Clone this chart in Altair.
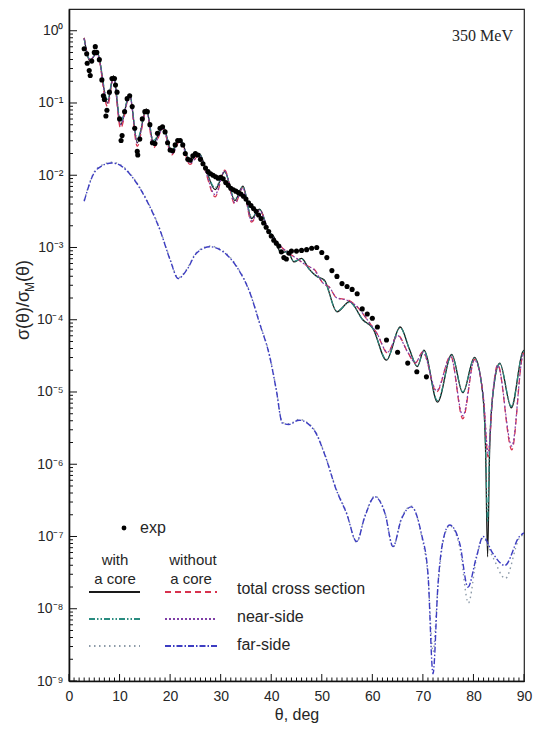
import altair as alt
import pandas as pd

# ---------------- data (theta in degrees, values given as log10 of sigma/sigma_M) ----------------
# total cross section, with a core (black solid)
tot_core_deg = [3.0, 4.1, 5.6, 7.6, 8.8, 10.2, 12.0, 13.5, 15.3, 16.7, 18.6, 20.3, 22.0, 23.9, 25.8, 27.0,
                28.9, 30.8, 32.8, 34.4, 36.1, 37.7, 39.5, 40.5, 42.0, 43.2, 44.5, 46.0, 47.5, 49.0, 50.5,
                53.0, 55.5, 58.1, 60.1, 62.8, 65.5, 67.4, 68.9, 70.2, 72.9, 75.7, 77.9, 80.2, 81.8, 82.4,
                82.8, 83.2, 83.9, 85.2, 87.5, 89.7, 90.0]
tot_core_lg = [-0.10, -0.42, -0.30, -1.00, -0.62, -1.30, -0.88, -1.55, -1.08, -1.55, -1.32, -1.67, -1.50,
               -1.80, -1.70, -1.90, -2.20, -1.95, -2.35, -2.15, -2.60, -2.47, -2.78, -2.85, -3.08, -3.05,
               -3.20, -3.15, -3.30, -3.40, -3.45, -3.89, -3.75, -4.00, -4.12, -4.56, -4.10, -4.42, -4.65,
               -4.42, -5.14, -4.48, -5.01, -4.52, -5.00, -5.80, -7.28, -5.80, -5.00, -4.60, -5.22, -4.45,
               -4.42]

# total cross section, without a core (red dashed)
tot_nocore_deg = [3.0, 4.1, 5.6, 7.6, 8.8, 10.2, 12.0, 13.5, 15.3, 16.7, 18.6, 20.3, 22.0, 23.9, 25.8, 27.0,
                  28.9, 30.8, 32.8, 34.4, 36.1, 37.7, 39.5, 41.0, 43.5, 45.0, 47.0, 48.5, 50.2, 51.5, 53.0,
                  55.0, 57.0, 59.0, 61.0, 63.0, 65.0, 67.0, 68.5, 70.0, 72.7, 75.5, 77.9, 80.2, 82.0, 82.9,
                  83.8, 84.8, 87.6, 89.7, 90.0]
tot_nocore_lg = [-0.10, -0.40, -0.32, -1.05, -0.65, -1.35, -0.90, -1.60, -1.10, -1.62, -1.35, -1.72, -1.52,
                 -1.85, -1.72, -1.95, -2.30, -1.93, -2.40, -2.17, -2.65, -2.48, -2.78, -2.92, -3.08, -3.15,
                 -3.25, -3.30, -3.49, -3.55, -3.70, -3.72, -3.82, -4.00, -4.20, -4.46, -4.21, -4.45, -4.60,
                 -4.44, -5.00, -4.50, -5.37, -4.55, -5.10, -5.90, -5.05, -4.62, -5.80, -4.50, -4.45]

# near-side, with a core (teal dash-dot-dot)
near_core_deg = [3.0, 4.1, 5.6, 7.6, 8.8, 10.2, 12.0, 13.5, 15.3, 16.7, 18.6, 20.3, 22.0, 23.9, 25.8, 27.0,
                 28.9, 30.8, 32.8, 34.4, 36.1, 37.7, 39.5, 40.5, 42.0, 43.2, 44.5, 46.0, 47.5, 49.0, 50.5,
                 53.0, 55.5, 58.1, 60.1, 62.8, 65.5, 67.4, 68.9, 70.2, 72.9, 75.7, 77.9, 80.2, 81.8, 82.4,
                 82.8, 83.2, 83.9, 85.2, 87.5, 89.7, 90.0]
near_core_lg = [-0.11, -0.40, -0.31, -0.95, -0.63, -1.25, -0.89, -1.50, -1.09, -1.52, -1.33, -1.65, -1.51,
                -1.78, -1.71, -1.91, -2.17, -1.96, -2.33, -2.16, -2.58, -2.48, -2.77, -2.86, -3.07, -3.06,
                -3.19, -3.16, -3.30, -3.40, -3.46, -3.88, -3.76, -4.00, -4.12, -4.55, -4.11, -4.42, -4.64,
                -4.43, -5.12, -4.49, -5.00, -4.53, -5.00, -5.75, -6.80, -5.75, -5.00, -4.61, -5.20, -4.46,
                -4.43]

# near-side, without a core (purple dotted)
near_nocore_deg = [3.0, 4.1, 5.6, 7.6, 8.8, 10.2, 12.0, 13.5, 15.3, 16.7, 18.6, 20.3, 22.0, 23.9, 25.8, 27.0,
                   28.9, 30.8, 32.8, 34.4, 36.1, 37.7, 39.5, 41.0, 43.5, 45.0, 47.0, 48.5, 50.2, 51.5, 53.0,
                   55.0, 57.0, 59.0, 61.0, 63.0, 65.0, 67.0, 68.5, 70.0, 72.7, 75.5, 77.9, 80.2, 82.0, 82.9,
                   83.8, 84.8, 87.6, 89.7, 90.0]
near_nocore_lg = [-0.11, -0.39, -0.33, -1.00, -0.66, -1.30, -0.91, -1.55, -1.11, -1.58, -1.36, -1.70, -1.53,
                  -1.83, -1.73, -1.94, -2.27, -1.94, -2.38, -2.18, -2.63, -2.49, -2.78, -2.92, -3.08, -3.15,
                  -3.25, -3.31, -3.49, -3.55, -3.70, -3.73, -3.82, -4.00, -4.20, -4.45, -4.22, -4.45, -4.59,
                  -4.45, -4.98, -4.51, -5.33, -4.56, -5.08, -5.85, -5.04, -4.63, -5.75, -4.51, -4.46]

# far-side, without a core (blue dash-dot)
far_nocore_deg = [3.0, 4.8, 6.5, 8.5, 10.3, 12.1, 15.3, 18.0, 20.0, 21.6, 23.3, 25.2, 27.9, 30.5, 33.1, 35.8,
                  37.7, 39.7, 41.0, 42.2, 43.5, 45.5, 48.5, 50.5, 52.9, 54.9, 56.9, 58.5, 60.5, 62.5, 64.1,
                  65.7, 67.7, 69.7, 71.0, 72.0, 73.0, 74.0, 75.3, 77.3, 78.9, 80.6, 81.9, 83.8, 86.2, 89.1,
                  90.0]
far_nocore_lg = [-2.36, -1.99, -1.87, -1.83, -1.87, -1.99, -2.34, -2.76, -3.17, -3.43, -3.31, -3.08, -2.99,
                 -3.06, -3.26, -3.63, -4.05, -4.51, -4.97, -5.43, -5.45, -5.39, -5.53, -5.85, -6.36, -6.68,
                 -7.07, -6.73, -6.45, -6.68, -7.14, -6.77, -6.59, -6.96, -7.51, -8.90, -7.65, -7.05, -6.84,
                 -7.10, -7.70, -7.28, -7.00, -7.23, -7.40, -7.00, -6.95]

# far-side, with a core (grey dotted)
far_core_deg = [3.0, 4.8, 6.5, 8.5, 10.3, 12.1, 15.3, 18.0, 20.0, 21.6, 23.3, 25.2, 27.9, 30.5, 33.1, 35.8,
                37.7, 39.7, 41.0, 42.2, 43.5, 45.5, 48.5, 50.5, 52.9, 54.9, 56.9, 58.5, 60.5, 62.5, 64.1,
                65.7, 67.7, 69.7, 71.0, 72.0, 73.0, 74.0, 75.3, 77.3, 79.0, 80.6, 81.9, 83.8, 86.3, 89.1,
                90.0]
far_core_lg = [-2.35, -1.98, -1.86, -1.82, -1.86, -1.98, -2.33, -2.75, -3.16, -3.42, -3.30, -3.07, -2.98,
               -3.05, -3.25, -3.62, -4.04, -4.50, -4.96, -5.42, -5.44, -5.38, -5.52, -5.84, -6.35, -6.67,
               -7.08, -6.72, -6.44, -6.67, -7.15, -6.76, -6.58, -6.98, -7.55, -8.60, -7.68, -7.07, -6.85,
               -7.15, -7.92, -7.30, -7.02, -7.28, -7.58, -7.02, -6.97]

# experimental points
exp_deg = [3.0, 3.5, 4.0, 4.5, 5.0, 5.5, 6.0, 6.5, 7.0, 7.5, 8.0, 8.5, 9.0, 9.5, 10.0, 10.5, 11.0, 11.5,
           12.0, 12.5, 13.0, 13.5, 14.0, 14.5, 15.0, 15.5, 16.0, 16.5, 17.0, 17.5, 18.0, 18.5, 19.0, 19.5,
           20.0, 20.5, 21.0, 21.5, 22.0, 22.5, 23.0, 23.5, 24.0, 24.5, 25.0, 25.5, 26.0, 26.5, 27.0, 27.5,
           28.0, 28.5, 29.0, 29.5, 30.0, 30.5, 31.0, 31.5, 32.0, 32.5, 33.0, 33.5, 34.0, 34.5, 35.0, 35.5,
           36.0, 36.5, 37.0, 37.5, 38.0, 38.5, 39.0, 39.5, 40.0, 40.5, 41.0, 41.5, 42.0, 42.5, 43.0, 43.5,
           44.0, 45.0, 46.0, 47.0, 48.0, 49.0, 50.0, 51.0, 52.0, 53.0, 54.0, 55.0, 56.0, 57.0, 58.0, 59.0,
           60.0, 61.0, 62.8, 65.0, 67.0, 68.8, 70.7,
           3.6, 4.2, 6.8, 7.3, 10.3, 13.6, 9.2, 5.2]
exp_lg = [-0.25, -0.32, -0.55, -0.42, -0.30, -0.30, -0.40, -0.68, -0.95, -1.10, -0.85, -0.66, -0.66, -0.85,
          -1.22, -1.45, -1.12, -0.94, -0.90, -1.05, -1.35, -1.67, -1.50, -1.22, -1.12, -1.12, -1.30, -1.55,
          -1.56, -1.42, -1.35, -1.33, -1.40, -1.55, -1.65, -1.66, -1.58, -1.52, -1.52, -1.58, -1.70, -1.78,
          -1.79, -1.73, -1.70, -1.72, -1.78, -1.84, -1.90, -1.95, -1.98, -2.00, -2.02, -2.04, -2.03, -2.05,
          -2.10, -2.14, -2.18, -2.20, -2.22, -2.24, -2.26, -2.29, -2.33, -2.38, -2.42, -2.46, -2.50, -2.55,
          -2.60, -2.66, -2.72, -2.78, -2.84, -2.90, -2.94, -2.98, -3.06, -3.14, -3.16, -3.08, -3.05, -3.05,
          -3.04, -3.03, -3.01, -3.00, -3.07, -3.14, -3.32, -3.40, -3.50, -3.54, -3.58, -3.64, -3.85, -3.92,
          -3.98, -4.10, -4.28, -4.45, -4.60, -4.72, -4.79,
          -0.45, -0.62, -0.90, -1.18, -1.52, -1.72, -0.75, -0.22]

# tick positions / labels
x_major = [0, 10, 20, 30, 40, 50, 60, 70, 80, 90]
x_minor = [v for v in range(0, 91) if v % 10 != 0]
y_major = [1e-9, 1e-8, 1e-7, 1e-6, 1e-5, 1e-4, 1e-3, 1e-2, 1e-1, 1e0]
y_minor = [m * 10.0 ** k for k in range(-9, 0) for m in range(2, 10)]
y_labels = ["10⁻⁹", "10⁻⁸", "10⁻⁷", "10⁻⁶", "10⁻⁵", "10⁻⁴", "10⁻³", "10⁻²", "10⁻¹", "10⁰"]

assert len(exp_deg) == len(exp_lg)


def frame(deg, lg):
    assert len(deg) == len(lg)
    return pd.DataFrame({"theta": deg, "ratio": [10.0 ** v for v in lg]})


W, H = 455, 672
FONT = "Liberation Sans"
TXT = "#262626"

xs = alt.Scale(domain=[0, 90], nice=False, zero=False)
ys = alt.Scale(type="log", domain=[1e-9, 2], nice=False)

label_expr = "[" + ",".join("'%s'" % s for s in y_labels) + "][round(log(datum.value)/LN10)+9]"

xaxis = alt.Axis(values=x_major, ticks=False, grid=False, labelFontSize=14, labelFont=FONT,
                 labelColor=TXT, labelPadding=8, labelFlush=False, domainColor="#111", domainWidth=1.6,
                 title="θ, deg", titleFont=FONT, titleFontSize=16, titleFontWeight="normal",
                 titleColor=TXT, titlePadding=3)
yaxis = alt.Axis(values=y_major, ticks=False, grid=False, labelFontSize=14, labelFont=FONT,
                 labelColor=TXT, labelPadding=6, labelFlush=False, labelExpr=label_expr,
                 domainColor="#111", domainWidth=1.6, title=None)

X = lambda f: alt.X(f, scale=xs, axis=xaxis)
Y = lambda f: alt.Y(f, scale=ys, axis=yaxis)


def curve(deg, lg, color, dash=None, width=1.3):
    kw = dict(color=color, strokeWidth=width, interpolate="monotone", clip=True)
    if dash:
        kw["strokeDash"] = dash
    return alt.Chart(frame(deg, lg)).mark_line(**kw).encode(x=X("theta:Q"), y=Y("ratio:Q"))


C_BLACK = "#1a1a1a"
C_RED = "#d8324e"
C_TEAL = "#2a8c80"
C_PURPLE = "#7e3ea6"
C_GREY = "#8c9aa8"
C_BLUE = "#3d3dc2"

D_RED = [6, 4]
D_TEAL = [6, 2, 1.5, 2, 1.5, 2]
D_PURPLE = [2, 2]
D_GREY = [1.5, 3.5]
D_BLUE = [6, 2, 1.5, 2]

layers = [
    curve(tot_core_deg, tot_core_lg, C_BLACK, None, 1.3),
    curve(tot_nocore_deg, tot_nocore_lg, C_RED, D_RED, 1.3),
    curve(near_core_deg, near_core_lg, C_TEAL, D_TEAL, 1.2),
    curve(near_nocore_deg, near_nocore_lg, C_PURPLE, D_PURPLE, 1.2),
    curve(far_core_deg, far_core_lg, C_GREY, D_GREY, 1.4),
    curve(far_nocore_deg, far_nocore_lg, C_BLUE, D_BLUE, 1.4),
]

exp_chart = alt.Chart(frame(exp_deg, exp_lg)).mark_circle(color="#000", opacity=1, size=26).encode(
    x=X("theta:Q"), y=Y("ratio:Q"))
layers.append(exp_chart)


# inward ticks
def yticks(vals, length):
    return alt.Chart(pd.DataFrame({"ratio": vals})).mark_rule(color="#111", strokeWidth=1).encode(
        y=Y("ratio:Q"), x=alt.value(0), x2=alt.value(length))


def xticks(vals, length):
    return alt.Chart(pd.DataFrame({"theta": vals})).mark_rule(color="#111", strokeWidth=1).encode(
        x=X("theta:Q"), y=alt.value(H), y2=alt.value(H - length))


layers += [yticks(y_major, 8), yticks(y_minor, 4), xticks(x_major, 7), xticks(x_minor, 3.5)]

one = pd.DataFrame({"a": [0]})


def txt(text, x, y, size=16, align="left", font=FONT, angle=None, baseline="middle"):
    kw = dict(fontSize=size, font=font, align=align, baseline=baseline, color=TXT)
    if angle is not None:
        kw["angle"] = angle
    return alt.Chart(one).mark_text(**kw).encode(x=alt.value(x), y=alt.value(y), text=alt.value(text))


def sample(x1, x2, y, color, dash=None, width=1.5):
    kw = dict(color=color, strokeWidth=width)
    if dash:
        kw["strokeDash"] = dash
    return alt.Chart(one).mark_rule(**kw).encode(x=alt.value(x1), x2=alt.value(x2), y=alt.value(y))


legend = [
    alt.Chart(one).mark_circle(color="#000", size=24, opacity=1).encode(x=alt.value(55), y=alt.value(519)),
    txt("exp", 71, 519),
    txt("with", 46, 551, 15, "center"),
    txt("a core", 46, 570, 15, "center"),
    txt("without", 124, 551, 15, "center"),
    txt("a core", 122, 570, 15, "center"),
    sample(20, 71, 583, C_BLACK, None, 2),
    sample(96, 148, 583, C_RED, D_RED, 2),
    txt("total cross section", 168, 580),
    sample(20, 71, 610, C_TEAL, D_TEAL, 1.8),
    sample(96, 146, 610, C_PURPLE, D_PURPLE, 1.8),
    txt("near-side", 168, 608),
    sample(20, 71, 637, C_GREY, D_GREY, 1.8),
    sample(96, 148, 637, C_BLUE, D_BLUE, 1.8),
    txt("far-side", 168, 636),
    txt("350 MeV", 444, 27, 16, "right", font="Liberation Serif"),
    # y-axis title  σ(θ)/σ_M(θ), rotated
    txt("σ(θ)/σ", -40, 331, 18, "left", angle=270, baseline="alphabetic"),
    txt("M", -35, 283, 12, "left", angle=270, baseline="alphabetic"),
    txt("(θ)", -40, 273, 18, "left", angle=270, baseline="alphabetic"),
]
layers += legend

chart = alt.layer(*layers).properties(
    width=W, height=H,
    autosize=alt.AutoSizeParams(type="none"),
    padding={"left": 69, "top": 9, "right": 11, "bottom": 53},
    background="white",
).configure_view(stroke="#222", strokeWidth=1.2)

chart.save("out.html", embed_options={"renderer": "svg", "actions": False})
